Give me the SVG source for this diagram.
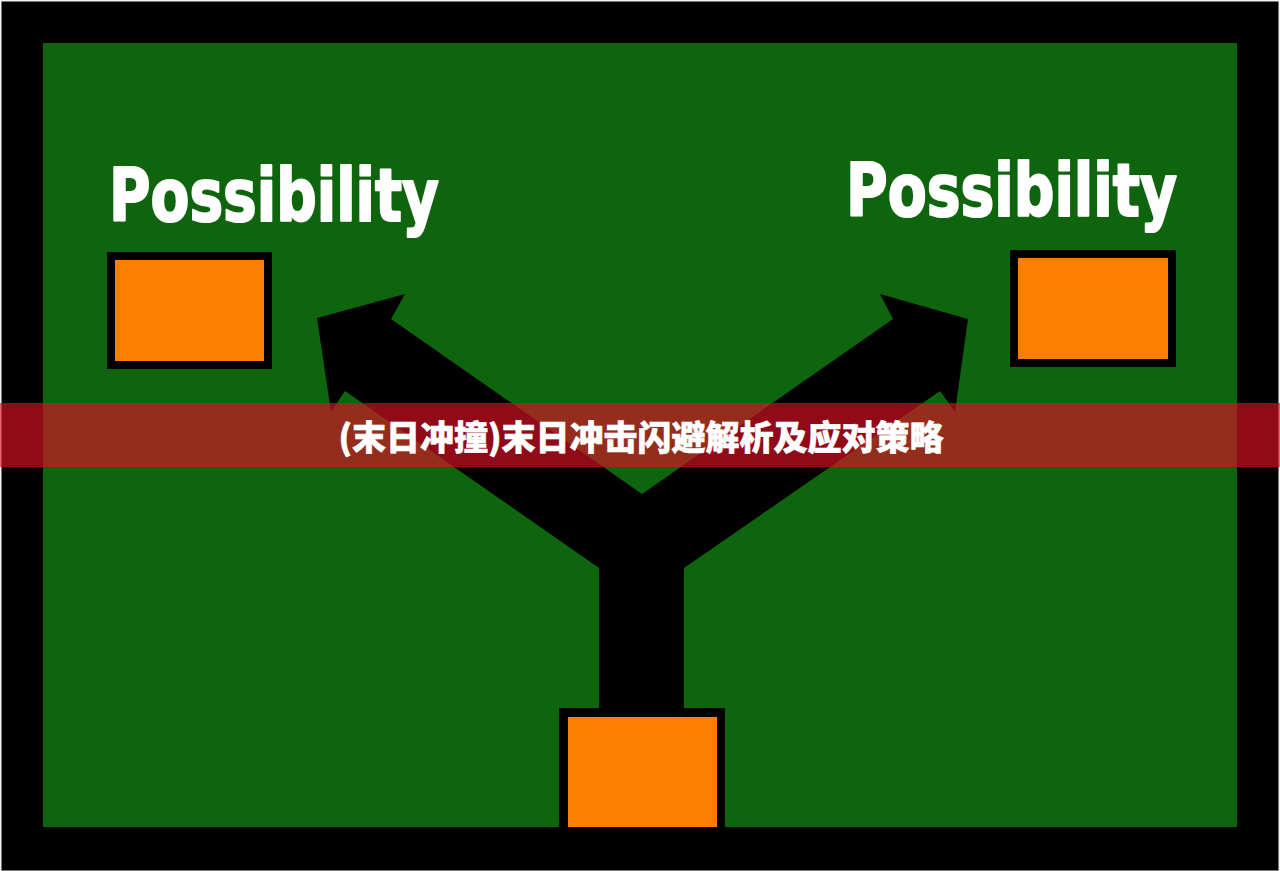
<svg xmlns="http://www.w3.org/2000/svg" width="1280" height="871" viewBox="0 0 1280 871">
  <style>
    .frame { fill: #000000; }
    .field { fill: #0e650e; }
    .boxOuter { fill: #000000; }
    .boxInner { fill: #fd7e00; }
    .label { font-family: "DejaVu Sans", Verdana, sans-serif; font-weight: bold; font-size: 73px; fill: #ffffff; stroke: #ffffff; stroke-width: 2.2px; stroke-linejoin: round; }
    .banner { fill: rgb(221,15,37); fill-opacity: 0.65; }
    .title { font-family: "Noto Sans CJK SC", "Noto Sans", sans-serif; font-weight: 900; font-size: 34px; fill: #ffffff; stroke: #ffffff; stroke-width: 0.6px; }
  </style>
  <rect x="0" y="0" width="1280" height="871" fill="#f4f4f4"/>
  <rect class="frame" x="1.5" y="1.5" width="1277" height="869"/>
  <rect class="field" x="43" y="43" width="1194" height="784"/>

  <g id="connectors">
    <polygon fill="#000000" points="317,318 405,294 391,319 642,494 893,319 880,294 968,319 955,412 940,391 684,568 684,712 599,712 599,568 345,391 331,412"/>
  </g>

  <g id="node-left">
    <text class="label" x="109" y="221" textLength="330" lengthAdjust="spacingAndGlyphs">Possibility</text>
    <rect class="boxOuter" x="107" y="252" width="165" height="117"/>
    <rect class="boxInner" x="115" y="260" width="149" height="101"/>
  </g>

  <g id="node-right">
    <text class="label" x="846" y="216" textLength="331" lengthAdjust="spacingAndGlyphs">Possibility</text>
    <rect class="boxOuter" x="1010" y="250" width="166" height="117"/>
    <rect class="boxInner" x="1018" y="258" width="150" height="101"/>
  </g>

  <g id="node-bottom">
    <rect class="boxOuter" x="559" y="708" width="166" height="125"/>
    <rect class="boxInner" x="568" y="717" width="149" height="110"/>
  </g>

  <g id="banner">
    <rect class="banner" x="0" y="403" width="1280" height="64"/>
    <text class="title" x="641" y="450" text-anchor="middle">(末日冲撞)末日冲击闪避解析及应对策略</text>
  </g>
</svg>
